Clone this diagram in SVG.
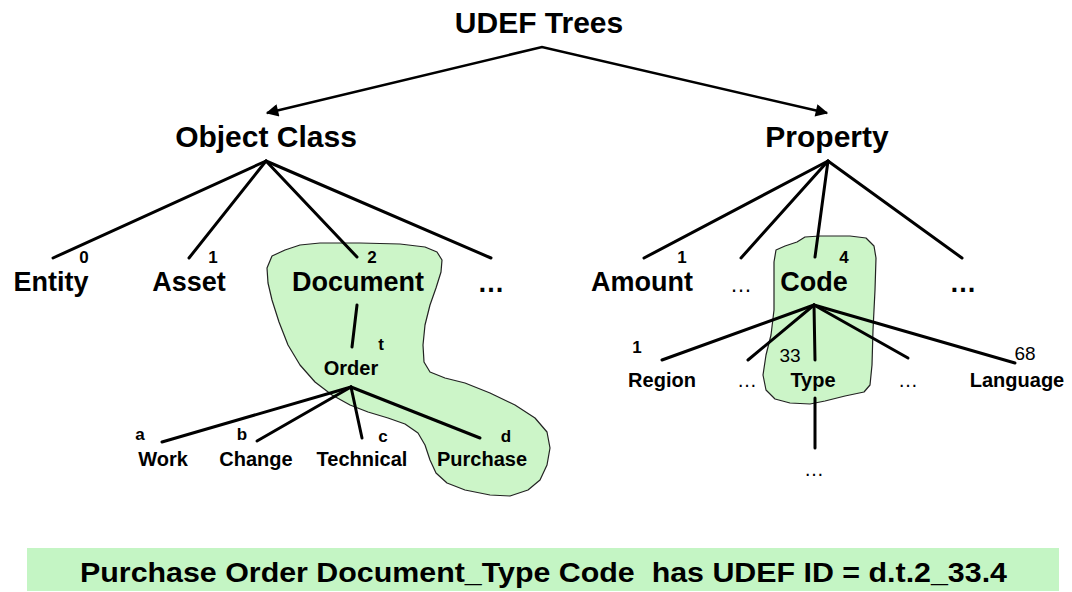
<svg xmlns="http://www.w3.org/2000/svg" width="1072" height="592" viewBox="0 0 1072 592">
  <defs>
    <marker id="arrowhead" viewBox="0 0 10 10" refX="9" refY="5" markerWidth="6" markerHeight="5" markerUnits="strokeWidth" orient="auto-start-reverse">
      <path d="M0,0 L10,5 L0,10 Z" fill="#000"/>
    </marker>
    <style>
      text { font-family: "Liberation Sans", Arial, sans-serif; fill: #000; text-anchor: middle; }
      .title { font-size: 30px; font-weight: bold; }
      .root { font-size: 30px; font-weight: bold; }
      .lvl1 { font-size: 27px; font-weight: bold; }
      .lvl2 { font-size: 20px; font-weight: bold; }
      .num { font-size: 17px; font-weight: bold; }
      .numreg { font-size: 19px; }
      .dotsB { font-size: 27px; font-weight: bold; }
      .dots { font-size: 22px; }
      .dotsS { font-size: 20px; }
      .banner { font-size: 28px; font-weight: bold; }
      .edge { stroke: #000; stroke-width: 3; fill: none; stroke-linecap: round; }
      .arrow { stroke: #000; stroke-width: 2.5; fill: none; }
      .hilite { fill: #ccf5c8; stroke: #222; stroke-width: 1.2; stroke-linejoin: round; }
    </style>
  </defs>

  <rect width="1072" height="592" fill="#fff"/>

  <!-- highlighted paths through the trees -->
  <g id="highlights">
    <path class="hilite" d="M267,268 L272,256 L285,250 L300,245 L320,243 L360,243 L400,244 L425,247 L437,252 L442,260 L441,272 L436,288 L430,305 L425,325 L423,345 L424,362 L430,372 L445,378 L465,383 L490,393 L515,405 L535,418 L547,432 L550,448 L547,465 L540,480 L528,490 L510,496 L490,495 L465,490 L447,483 L436,473 L430,460 L425,445 L418,433 L405,424 L388,418 L368,412 L350,405 L332,395 L315,382 L300,365 L288,345 L279,322 L272,300 L268,283 Z"/>
    <path class="hilite" d="M774,262 L776,250 L785,246 L797,242 L805,237 L820,236 L850,236 L866,238 L874,246 L876,258 L875,290 L873,330 L872,365 L870,385 L864,392 L845,396 L825,401 L810,404 L790,403 L775,399 L766,390 L763,375 L766,355 L771,335 L774,310 L774,285 Z"/>
  </g>

  <!-- connectors -->
  <g id="connectors">
    <path class="arrow" d="M267,113 L542,47 L827,113" marker-start="url(#arrowhead)" marker-end="url(#arrowhead)"/>
    <!-- Object Class branches -->
    <line class="edge" x1="266" y1="161" x2="53" y2="258"/>
    <line class="edge" x1="266" y1="161" x2="189" y2="258"/>
    <line class="edge" x1="266" y1="161" x2="357" y2="257"/>
    <line class="edge" x1="266" y1="161" x2="491" y2="258"/>
    <!-- Property branches -->
    <line class="edge" x1="828" y1="161" x2="644" y2="258"/>
    <line class="edge" x1="828" y1="161" x2="741" y2="258"/>
    <line class="edge" x1="828" y1="161" x2="815" y2="257"/>
    <line class="edge" x1="828" y1="161" x2="962" y2="258"/>
    <!-- Document subtree -->
    <line class="edge" x1="357" y1="305" x2="352" y2="347"/>
    <line class="edge" x1="351" y1="387" x2="162" y2="442"/>
    <line class="edge" x1="351" y1="387" x2="257" y2="441"/>
    <line class="edge" x1="351" y1="387" x2="362" y2="438"/>
    <line class="edge" x1="351" y1="387" x2="480" y2="438"/>
    <!-- Code subtree -->
    <line class="edge" x1="814" y1="305" x2="662" y2="360"/>
    <line class="edge" x1="814" y1="305" x2="748" y2="360"/>
    <line class="edge" x1="814" y1="305" x2="815" y2="360"/>
    <line class="edge" x1="814" y1="305" x2="908" y2="358"/>
    <line class="edge" x1="814" y1="305" x2="1015" y2="363"/>
    <line class="edge" x1="815" y1="398" x2="815" y2="448"/>
  </g>

  <g id="udef-trees"><text class="title" x="539" y="33">UDEF Trees</text></g>
  <g id="object-class"><text class="root" x="266" y="147">Object Class</text></g>
  <g id="property"><text class="root" x="827" y="147">Property</text></g>

  <g id="entity"><text class="num" x="84" y="263">0</text><text class="lvl1" x="51" y="291">Entity</text></g>
  <g id="asset"><text class="num" x="213" y="263">1</text><text class="lvl1" x="189" y="291">Asset</text></g>
  <g id="document"><text class="num" x="372" y="263">2</text><text class="lvl1" x="358" y="291">Document</text></g>
  <g id="object-more"><text class="dotsB" x="491" y="292">…</text></g>

  <g id="amount"><text class="num" x="682" y="263">1</text><text class="lvl1" x="642" y="291">Amount</text></g>
  <g id="property-gap"><text class="dots" x="741" y="292">…</text></g>
  <g id="code"><text class="num" x="844" y="263">4</text><text class="lvl1" x="814" y="291">Code</text></g>
  <g id="property-more"><text class="dotsB" x="963" y="292">…</text></g>

  <g id="order"><text class="num" x="381" y="350">t</text><text class="lvl2" x="351" y="375">Order</text></g>
  <g id="work"><text class="num" x="140" y="440">a</text><text class="lvl2" x="163" y="466">Work</text></g>
  <g id="change"><text class="num" x="242" y="440">b</text><text class="lvl2" x="256" y="466">Change</text></g>
  <g id="technical"><text class="num" x="383" y="442">c</text><text class="lvl2" x="362" y="466">Technical</text></g>
  <g id="purchase"><text class="num" x="506" y="442">d</text><text class="lvl2" x="482" y="466">Purchase</text></g>

  <g id="region"><text class="num" x="637" y="353">1</text><text class="lvl2" x="662" y="387">Region</text></g>
  <g id="code-gap-left"><text class="dotsS" x="747" y="387">…</text></g>
  <g id="type"><text class="numreg" x="790" y="362">33</text><text class="lvl2" x="813" y="387">Type</text></g>
  <g id="code-gap-right"><text class="dotsS" x="908" y="387">…</text></g>
  <g id="language"><text class="numreg" x="1025" y="360">68</text><text class="lvl2" x="1017" y="387">Language</text></g>
  <g id="type-more"><text class="dotsS" x="814" y="476">…</text></g>

  <g id="result">
    <rect x="27" y="548" width="1032" height="43" fill="#c4f5c4"/>
    <text class="banner" x="80" y="582" style="text-anchor:start" textLength="927" lengthAdjust="spacingAndGlyphs" xml:space="preserve">Purchase Order Document_Type Code  has UDEF ID = d.t.2_33.4</text>
  </g>
</svg>
